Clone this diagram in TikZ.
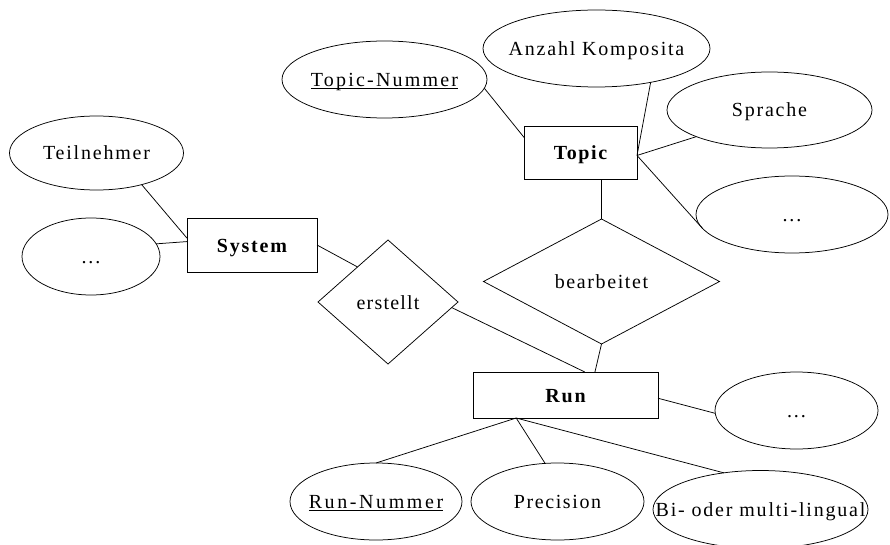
\documentclass[tikz,border=0pt]{standalone}
\usepackage{fontspec}
\setmainfont{Liberation Serif}[LetterSpace=9]
\usetikzlibrary{shapes.geometric}
\newcommand\ulin[1]{\leavevmode\setbox0\hbox{#1}\rlap{\rule[-2.6pt]{\wd0}{0.9pt}}\box0}
\newcommand\lsp[2]{{\addfontfeature{LetterSpace=#1}#2}}
\begin{document}
\begin{tikzpicture}[x=1pt,y=-1pt, line width=0.75pt,
  every node/.style={font=\fontsize{20}{23}\selectfont, text height=14pt, text depth=0pt, inner sep=0pt, outer sep=0pt},
  attr/.style={draw, ellipse},
  ent/.style={draw, rectangle, font=\fontsize{20}{23}\selectfont\bfseries},
  rel/.style={draw, diamond}]
\useasboundingbox (0,0) rectangle (890,545);
% entities
\node[ent, minimum width=130pt, minimum height=54pt] (sys) at (252,245) {System};
\node[ent, minimum width=113pt, minimum height=53pt] (topic) at (580.5,152.5) {\lsp{8}{Topic}};
\node[ent, minimum width=185pt, minimum height=46pt] (run) at (565.5,395) {Run};
% relationships
\node[rel, minimum width=140pt, minimum height=124pt] (er) at (388,302) {\makebox[0pt]{\lsp{6}{erstellt}}};
\node[rel, minimum width=236pt, minimum height=125pt] (bear) at (601.5,281.5) {\makebox[0pt]{\lsp{8}{bearbeitet}}};
% attributes
\node[attr, minimum width=174pt, minimum height=74pt] (teil) at (96.5,153) {\makebox[0pt]{Teilnehmer}};
\node[attr, minimum width=138pt, minimum height=77pt] (ld) at (91,256.5) {\makebox[0pt]{...}};
\node[attr, minimum width=205pt, minimum height=77pt] (tn) at (384.5,79.5) {\makebox[0pt]{\ulin{\lsp{11}{Topic-Nummer}}}};
\node[attr, minimum width=227pt, minimum height=77pt] (ak) at (596.5,48.5) {\makebox[0pt]{Anzahl Komposita}};
\node[attr, minimum width=205pt, minimum height=76pt] (sp) at (769.5,110) {\makebox[0pt]{Sprache}};
\node[attr, minimum width=192pt, minimum height=77pt] (dr) at (792,214.5) {\makebox[0pt]{...}};
\node[attr, minimum width=163pt, minimum height=77pt] (drb) at (796.5,410.5) {\makebox[0pt]{...}};
\node[attr, minimum width=172pt, minimum height=77pt] (rn) at (376,501.5) {\makebox[0pt]{\ulin{\lsp{13}{Run-Nummer}}}};
\node[attr, minimum width=173pt, minimum height=77pt] (pr) at (557.5,501.5) {\makebox[0pt]{\lsp{8}{Precision}}};
\node[attr, minimum width=215pt, minimum height=78pt] (bi) at (760.5,509.5) {\makebox[0pt]{\lsp{9}{Bi- oder multi-lingual}}};
% connectors
\draw (teil.-35) -- (sys.174);
\draw (ld.11) -- (sys.177);
\draw (sys.east) -- (er.131);
\draw (er.-5) -- (run.50);
\draw (tn.-5) -- (topic.165);
\draw (ak.-32) -- (topic.-3);
\draw (topic.-3) -- (sp.200);
\draw (topic.-3) -- (dr.189);
\draw (bear.north) -- (bear.north |- topic.south);
\draw (bear.south) -- (run.38);
\draw (run.-2) -- (drb.182);
\draw (run.205) -- (rn.north);
\draw (run.205) -- (pr.108);
\draw (run.205) -- (bi.135);
\end{tikzpicture}
\end{document}
